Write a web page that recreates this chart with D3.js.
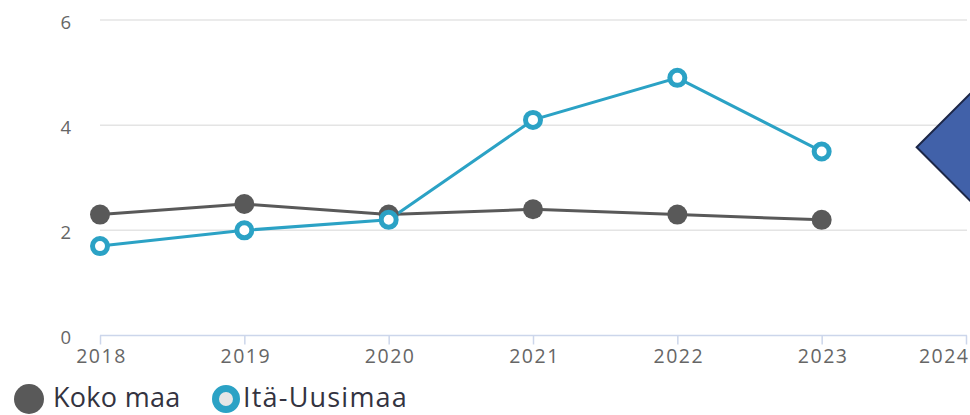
<!DOCTYPE html>
<html>
<head>
<meta charset="utf-8">
<script src="https://cdn.jsdelivr.net/npm/d3@7"></script>
<style>
  html, body { margin: 0; padding: 0; background: #fff; }
  svg { display: block; }
</style>
</head>
<body>
<svg id="chart" width="970" height="415"></svg>
<script>
const years = [2018, 2019, 2020, 2021, 2022, 2023];
const xTicks = [2018, 2019, 2020, 2021, 2022, 2023, 2024];
const yTicks = [0, 2, 4, 6];
const kokoMaa = [2.3, 2.5, 2.3, 2.4, 2.3, 2.2];
const itaUusimaa = [1.7, 2.0, 2.2, 4.1, 4.9, 3.5];
const seriesNames = ["Koko maa", "Itä-Uusimaa"];

const grey = "#595959";
const cyan = "#2ba2c5";
const font = "'Open Sans', 'Noto Sans', sans-serif";

const svg = d3.select("#chart");
const x = d3.scaleLinear().domain([2018, 2024]).range([100, 966]);
const y = d3.scaleLinear().domain([0, 6]).range([335.5, 20]);

// gridlines
svg.append("g").selectAll("line").data(yTicks.filter(d => d > 0)).join("line")
  .attr("x1", 100).attr("x2", 967)
  .attr("y1", d => y(d)).attr("y2", d => y(d))
  .attr("stroke", "#e4e4e4").attr("stroke-width", 1.5);

// y labels
svg.append("g").selectAll("text").data(yTicks).join("text")
  .attr("x", 71).attr("y", d => y(d) + 8.5)
  .attr("text-anchor", "end")
  .attr("font-family", font).attr("font-size", 18.5)
  .attr("fill", "#666").text(d => d);

// x axis
const xAxis = d3.axisBottom(x).tickValues(xTicks).tickFormat(d3.format("d"))
  .tickSize(9).tickPadding(5);
const gx = svg.append("g").attr("transform", `translate(0,${y(0)})`).call(xAxis);
gx.select(".domain").attr("stroke", "#ccd6eb").attr("stroke-width", 1.5)
  .attr("d", `M${x(2018)},0H${x(2024) + 1}`);
gx.selectAll(".tick line").attr("stroke", "#ccd6eb").attr("stroke-width", 1.5);
gx.selectAll(".tick text").attr("font-family", font).attr("font-size", 19.5)
  .attr("fill", "#666").attr("letter-spacing", "1.5px").attr("x", 1);
// keep the last label inside the frame, as the reference does
gx.selectAll(".tick text").filter(d => d === 2024)
  .attr("text-anchor", "end").attr("x", 3);

const line = d3.line().x((d, i) => x(years[i])).y(d => y(d));

svg.append("path").datum(kokoMaa).attr("d", line)
  .attr("fill", "none").attr("stroke", grey).attr("stroke-width", 3);
svg.append("path").datum(itaUusimaa).attr("d", line)
  .attr("fill", "none").attr("stroke", cyan).attr("stroke-width", 3);

svg.append("g").selectAll("circle").data(kokoMaa).join("circle")
  .attr("cx", (d, i) => x(years[i])).attr("cy", d => y(d))
  .attr("r", 10).attr("fill", grey);

svg.append("g").selectAll("circle").data(itaUusimaa).join("circle")
  .attr("cx", (d, i) => x(years[i])).attr("cy", d => y(d))
  .attr("r", 7.5).attr("fill", "#fff").attr("stroke", cyan).attr("stroke-width", 5);

// decorative callout diamond at right
const dx = x(2023) + 95, dy = y(3.58);
svg.append("polygon")
  .attr("points", [[dx, dy], [dx + 70, dy - 70], [dx + 140, dy], [dx + 70, dy + 70]].map(p => p.join(",")).join(" "))
  .attr("fill", "#4161a9").attr("stroke", "#1c2748").attr("stroke-width", 2);

// legend
const leg = svg.append("g");
leg.append("circle").attr("cx", 29).attr("cy", 399).attr("r", 15).attr("fill", grey);
leg.append("text").attr("x", 53).attr("y", 407).attr("font-family", font).attr("font-size", 27)
  .attr("letter-spacing", "0.3px")
  .attr("fill", "#333340").text(seriesNames[0]);
leg.append("circle").attr("cx", 226).attr("cy", 399).attr("r", 10.5)
  .attr("fill", "#e6e6e6").attr("stroke", cyan).attr("stroke-width", 7);
leg.append("text").attr("x", 243).attr("y", 407).attr("font-family", font).attr("font-size", 27)
  .attr("letter-spacing", "1.2px")
  .attr("fill", "#333340").text(seriesNames[1]);
</script>
</body>
</html>
